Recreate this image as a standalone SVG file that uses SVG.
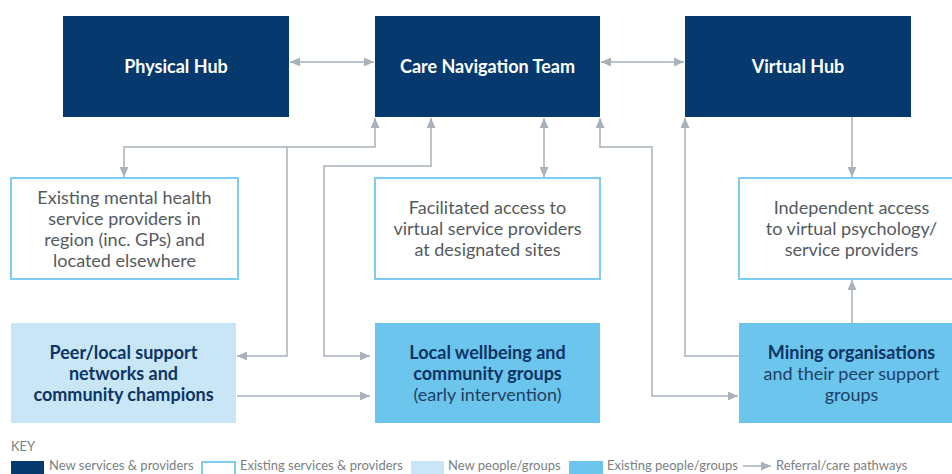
<svg xmlns="http://www.w3.org/2000/svg" width="952" height="474" viewBox="0 0 952 474">
  <style>
    .new { fill: #063a6e; }
    .exist { fill: #ffffff; stroke: #7fcdee; stroke-width: 2; }
    .newppl { fill: #c8e6f6; }
    .existppl { fill: #6cc5ec; }
    .title { font-family: Lato, "Open Sans", sans-serif; font-weight: 700; font-size: 18px; fill: #ffffff; text-anchor: middle; }
    .body { font-family: Lato, "Open Sans", sans-serif; font-size: 18px; fill: #555a60; text-anchor: middle; }
    .head { font-family: Lato, "Open Sans", sans-serif; font-weight: 700; font-size: 18px; fill: #0d3465; text-anchor: middle; }
    .sub { font-family: Lato, "Open Sans", sans-serif; font-size: 18px; fill: #1e3f66; text-anchor: middle; }
    .key { font-family: Lato, "Open Sans", sans-serif; font-size: 13px; fill: #7a7f85; }
    .link { fill: none; stroke: #a9b1bb; stroke-width: 1.5; }
  </style>
  <defs>
    <marker id="arrow" viewBox="0 0 10 9" refX="10" refY="4.5" markerWidth="10" markerHeight="9" markerUnits="userSpaceOnUse" orient="auto-start-reverse">
      <path d="M0,0 L10,4.5 L0,9 z" fill="#a9b1bb"/>
    </marker>
  </defs>

  <!-- top row: new services -->
  <g id="physical-hub">
    <rect class="new" x="63" y="16" width="226" height="101"/>
    <text class="title" x="176" y="73">Physical Hub</text>
  </g>
  <g id="care-navigation-team">
    <rect class="new" x="375" y="16" width="225" height="101"/>
    <text class="title" x="487.5" y="73">Care Navigation Team</text>
  </g>
  <g id="virtual-hub">
    <rect class="new" x="685" y="16" width="226" height="101"/>
    <text class="title" x="798" y="73">Virtual Hub</text>
  </g>

  <!-- middle row: existing services -->
  <g id="existing-providers">
    <rect class="exist" x="11" y="178" width="227" height="101"/>
    <text class="body" x="124.5" y="204">Existing mental health</text>
    <text class="body" x="124.5" y="225">service providers in</text>
    <text class="body" x="124.5" y="246">region (inc. GPs) and</text>
    <text class="body" x="124.5" y="267">located elsewhere</text>
  </g>
  <g id="facilitated-access">
    <rect class="exist" x="375" y="178" width="225" height="101"/>
    <text class="body" x="487.5" y="214">Facilitated access to</text>
    <text class="body" x="487.5" y="235">virtual service providers</text>
    <text class="body" x="487.5" y="256">at designated sites</text>
  </g>
  <g id="independent-access">
    <rect class="exist" x="739" y="178" width="225" height="101"/>
    <text class="body" x="851.5" y="214">Independent access</text>
    <text class="body" x="851.5" y="235">to virtual psychology/</text>
    <text class="body" x="851.5" y="256">service providers</text>
  </g>

  <!-- bottom row: people and groups -->
  <g id="peer-support">
    <rect class="newppl" x="11" y="323" width="225" height="100"/>
    <text class="head" x="123.5" y="359">Peer/local support</text>
    <text class="head" x="123.5" y="380">networks and</text>
    <text class="head" x="123.5" y="401">community champions</text>
  </g>
  <g id="local-wellbeing">
    <rect class="existppl" x="375" y="323" width="225" height="100"/>
    <text class="head" x="487.5" y="359">Local wellbeing and</text>
    <text class="head" x="487.5" y="380">community groups</text>
    <text class="sub" x="487.5" y="401">(early intervention)</text>
  </g>
  <g id="mining-organisations">
    <rect class="existppl" x="739" y="323" width="225" height="100"/>
    <text class="head" x="851.5" y="359">Mining organisations</text>
    <text class="sub" x="851.5" y="380">and their peer support</text>
    <text class="sub" x="851.5" y="401">groups</text>
  </g>

  <!-- referral / care pathways -->
  <g id="connectors">
    <path class="link" d="M290,62 H374" marker-start="url(#arrow)" marker-end="url(#arrow)"/>
    <path class="link" d="M601,62 H684" marker-start="url(#arrow)" marker-end="url(#arrow)"/>
    <path class="link" d="M124,177 V147 H375 V118" marker-start="url(#arrow)" marker-end="url(#arrow)"/>
    <path class="link" d="M287,147 V356 H237" marker-end="url(#arrow)"/>
    <path class="link" d="M431,118 V166 H324 V356 H370" marker-start="url(#arrow)" marker-end="url(#arrow)"/>
    <path class="link" d="M544,118 V177" marker-start="url(#arrow)" marker-end="url(#arrow)"/>
    <path class="link" d="M600,118 V147 H652 V396 H738" marker-start="url(#arrow)" marker-end="url(#arrow)"/>
    <path class="link" d="M685,118 V356 H739" marker-start="url(#arrow)"/>
    <path class="link" d="M852,117 V177" marker-end="url(#arrow)"/>
    <path class="link" d="M852,323 V280" marker-end="url(#arrow)"/>
    <path class="link" d="M237,396 H370" marker-end="url(#arrow)"/>
  </g>

  <!-- key -->
  <g id="key">
    <text class="key" x="11" y="451">KEY</text>
    <rect class="new" x="11" y="461" width="33" height="16"/>
    <text class="key" x="49" y="470">New services &amp; providers</text>
    <rect class="exist" x="202" y="462" width="33" height="16"/>
    <text class="key" x="240" y="470">Existing services &amp; providers</text>
    <rect class="newppl" x="411" y="461" width="33" height="16"/>
    <text class="key" x="448" y="470">New people/groups</text>
    <rect class="existppl" x="569" y="461" width="34" height="16"/>
    <text class="key" x="607" y="470">Existing people/groups</text>
    <path class="link" d="M743,466 H771" marker-end="url(#arrow)"/>
    <text class="key" x="776" y="470">Referral/care pathways</text>
  </g>
</svg>
